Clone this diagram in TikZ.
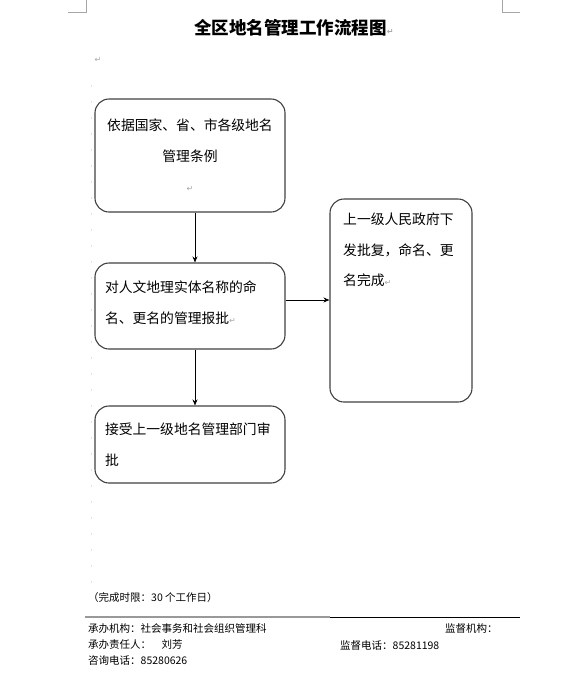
\documentclass[tikz,border=0pt]{standalone}
\usepackage{fontspec}
\usepackage{tikz}
\usetikzlibrary{arrows.meta}
\newfontfamily\cjk{Noto Sans CJK SC}
\newfontfamily\symfont{DejaVu Sans}
\newcommand{\pmark}{{\symfont\color{gray!70}\fontsize{8}{8}\selectfont ↵}}
\tikzset{
  flowbox/.style={draw=black!75,line width=1.1pt,rounded corners=14pt,inner sep=0pt},
  boxtext/.style={font=\cjk\fontsize{13.8}{30.5}\selectfont},
  foottext/.style={font=\cjk\fontsize{10.5}{12}\selectfont,anchor=west,inner sep=0pt},
  flowarrow/.style={-{Stealth[length=6pt,width=5pt]},line width=1pt}
}
\begin{document}
\begin{tikzpicture}[x=1pt,y=-1pt]
\useasboundingbox (0,0) rectangle (572,694);
% corner marks
\draw[gray!70,line width=.6pt] (68,12)--(86,12)--(86,0);
\draw[gray!70,line width=.6pt] (502,0)--(502,12)--(520,12);
\foreach \y in {86,102,...,590} \fill[gray!45] (91.5,\y) circle (.6pt);
% title
\node[font=\cjk\bfseries\fontsize{17.5}{20}\selectfont] (title) at (294,28) {全区地名管理工作流程图\pmark};
\node (pm) at (98,60) {\pmark};
% boxes
\node[flowbox,boxtext,minimum width=190,minimum height=113,align=center] (yiju) at (190,155.5)
  {依据国家、省、市各级地名\\管理条例\\\pmark};
\node[flowbox,boxtext,minimum width=190,minimum height=86,align=left,text width=170pt] (baopi) at (190,306)
  {对人文地理实体名称的命\\名、更名的管理报批\pmark\\[-22.5pt]\mbox{}};
\node[flowbox,boxtext,minimum width=190,minimum height=77,align=left,text width=170pt] (shenpi) at (190,444.5)
  {接受上一级地名管理部门审\\批};
\node[flowbox,minimum width=142,minimum height=203] (shangji) at (401,300.5) {};
\node[boxtext,anchor=north west,align=left,inner sep=0pt] (shangjitext) at (343,213)
  {上一级人民政府下\\发批复，命名、更\\名完成\pmark};
% arrows
\draw[flowarrow] ([xshift=5pt]yiju.south) -- ([xshift=5pt]baopi.north);
\draw[flowarrow] ([xshift=5pt]baopi.south) -- ([xshift=5pt]shenpi.north);
\draw[flowarrow] ([yshift=6pt]baopi.east) -- ([yshift=6pt]baopi.east -| shangji.west);
% footer
\node[foottext] (shixian) at (88,598) {（完成时限：30 个工作日）};
\draw[gray!80,line width=1.1pt] (85,617)--(330,617);
\draw[black,line width=.6pt] (330,617)--(520,617);
\node[foottext] (jigou) at (88,629) {承办机构：社会事务和社会组织管理科};
\node[foottext] (zeren) at (88,645) {承办责任人：\quad 刘芳};
\node[foottext] (zixun) at (88,661) {咨询电话：85280626};
\node[foottext] (jiandu) at (445,629) {监督机构：};
\node[foottext] (jdphone) at (340,645) {监督电话：85281198};
\end{tikzpicture}
\end{document}
